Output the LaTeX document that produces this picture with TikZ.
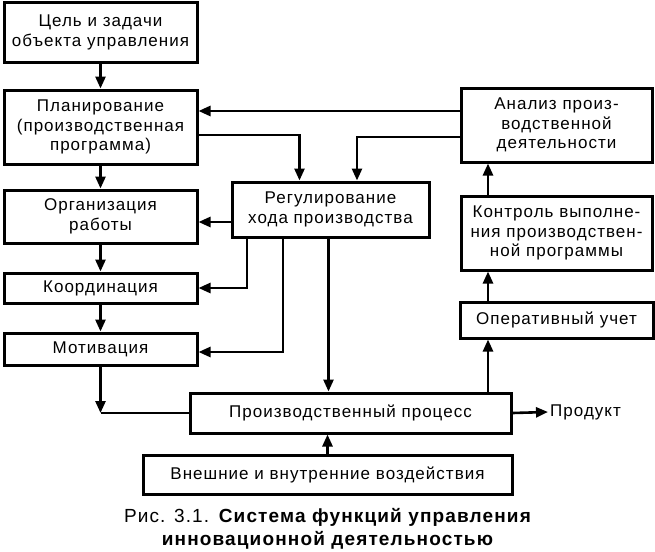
\documentclass[tikz,border=0pt]{standalone}
\usepackage{fontspec}
\setmainfont[LetterSpace=6]{Liberation Sans}
\usetikzlibrary{arrows.meta}
\begin{document}
\begin{tikzpicture}[x=1pt,y=-1pt,
  box/.style={draw, line width=3pt, align=center, inner sep=0pt, font=\fontsize{17}{19.5}\selectfont},
  conn/.style={line width=2.6pt},
  arr/.style={conn, -{Triangle[length=12pt,width=10pt]}},
]
\useasboundingbox (0,0) rectangle (655,551);
\node[box, minimum width=193, minimum height=59] (A) at (100.5,32.5) {Цель и задачи\\объекта управления};
\node[box, minimum width=193, minimum height=74] (B) at (100.5,127) {Планирование\\(производственная\\программа)};
\node[box, minimum width=193, minimum height=53] (C) at (100.5,216.5) {Организация\\работы};
\node[box, minimum width=193, minimum height=30] (D) at (100.5,288) {Координация};
\node[box, minimum width=193, minimum height=32] (E) at (100.5,349) {Мотивация};
\node[box, minimum width=197, minimum height=55] (F) at (330.5,209.5) {Регулирование\\хода производства};
\node[box, minimum width=191, minimum height=74] (G) at (556.5,125) {Анализ произ-\\водственной\\деятельности};
\node[box, minimum width=191, minimum height=74] (H) at (556.5,233) {Контроль выполне-\\ния производствен-\\ной программы};
\node[box, minimum width=193, minimum height=36] (I) at (556.5,320) {Оперативный учет};
\node[box, minimum width=321, minimum height=40] (J) at (350.5,413) {Производственный процесс};
\node[box, minimum width=369, minimum height=39] (K) at (327.5,474.5) {Внешние и внутренние воздействия};
\node[anchor=west, inner sep=0pt, font=\fontsize{17}{19.5}\selectfont] (P) at (550,412) {Продукт};
\node[align=center, inner sep=0pt, font=\fontsize{19}{23}\selectfont] (cap) at (328,528.5) {Рис. 3.1. \textbf{Система функций управления}\\\textbf{инновационной деятельностью}};
\coordinate (m) at (E.south |- J.west);
\draw[arr] (A.south) -- (B.north);
\draw[arr] ([yshift=14pt]G.west) -- ([yshift=14pt]G.west -| B.east);
\draw[arr] ([yshift=-8pt]B.east) -| ([xshift=-31pt]F.north);
\draw[arr] ([yshift=-12pt]G.west) -| ([xshift=26.5pt]F.north);
\draw[arr] (B.south) -- (C.north);
\draw[arr] (C.south) -- (D.north);
\draw[arr] (D.south) -- (E.north);
\draw[arr] ([yshift=-12.5pt]F.west) -- ([yshift=-12.5pt]F.west -| C.east);
\draw[arr] ([xshift=-83.5pt]F.south) |- (D.east);
\draw[arr] ([xshift=-47.5pt]F.south) |- ([yshift=-3pt]E.east);
\draw[arr] ([xshift=-2pt]F.south) -- ([xshift=-2pt]F.south |- J.north);
\draw[arr] (E.south) -- (m);
\draw[conn] (J.west) -- (m);
\draw[arr] ([xshift=137.5pt]J.north) -- ([xshift=137.5pt]J.north |- I.south);
\draw[arr] ([xshift=-68.5pt]I.north) -- ([xshift=-68.5pt]I.north |- H.south);
\draw[arr] ([xshift=-68.5pt]H.north) -- ([xshift=-68.5pt]H.north |- G.south);
\draw[arr] (K.north) -- (K.north |- J.south);
\draw[arr] (J.east) -- ([xshift=-2pt]P.west);
\end{tikzpicture}
\end{document}
